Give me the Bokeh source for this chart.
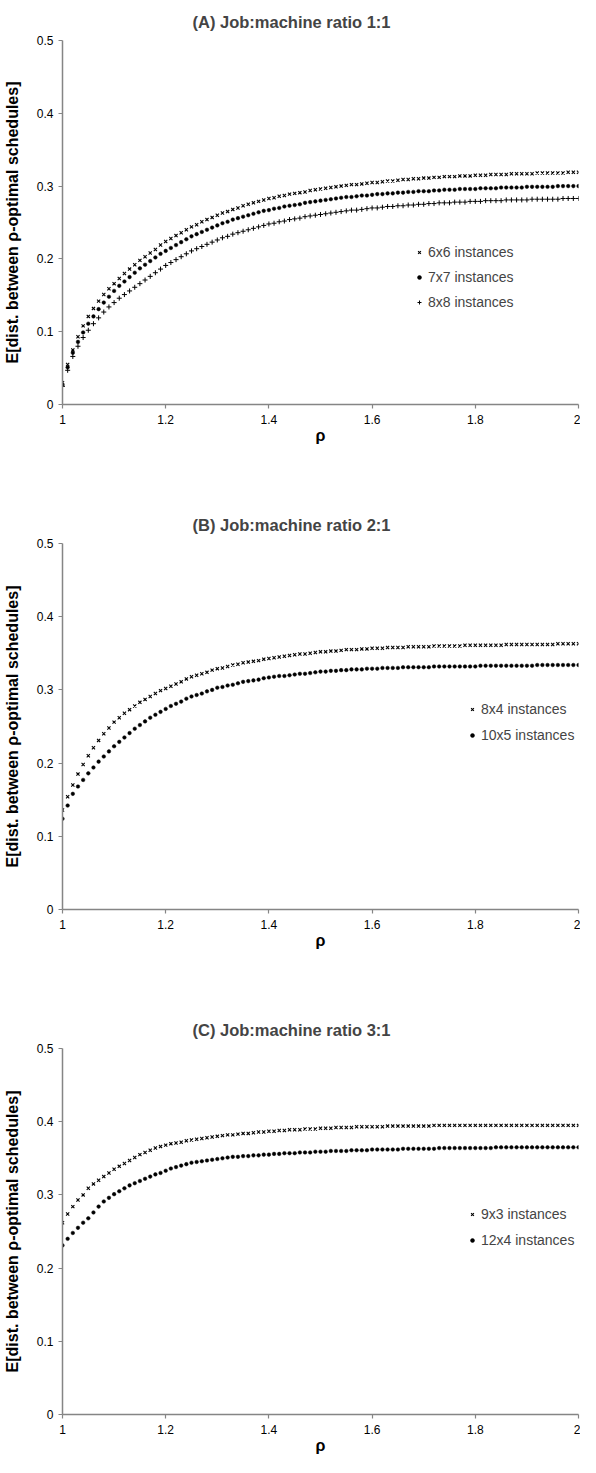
from bokeh.plotting import figure
from bokeh.layouts import column
from bokeh.models import FixedTicker, NumeralTickFormatter, Legend, LegendItem, Range1d
from bokeh.embed import file_html
from bokeh.resources import INLINE

# x values: rho from 1.00 to 2.00 in steps of 0.01
rho = [round(1 + i * 0.01, 2) for i in range(101)]

# ---------------- Panel A (1:1) ----------------
a_6x6 = [0.030, 0.055, 0.075, 0.093, 0.108, 0.121, 0.132, 0.142, 0.151, 0.159,
         0.166, 0.173, 0.180, 0.186, 0.192, 0.198, 0.203, 0.208, 0.213, 0.219,
         0.224, 0.228, 0.232, 0.236, 0.240, 0.244, 0.247, 0.251, 0.254, 0.257,
         0.260, 0.263, 0.265, 0.268, 0.270, 0.273, 0.275, 0.277, 0.279, 0.281,
         0.283, 0.284, 0.286, 0.287, 0.289, 0.290, 0.291, 0.292, 0.294, 0.295,
         0.296, 0.297, 0.298, 0.299, 0.300, 0.301, 0.302, 0.302, 0.303, 0.304,
         0.305, 0.305, 0.306, 0.307, 0.307, 0.308, 0.309, 0.309, 0.310, 0.310,
         0.311, 0.311, 0.312, 0.312, 0.313, 0.313, 0.313, 0.314, 0.314, 0.314,
         0.315, 0.315, 0.315, 0.316, 0.316, 0.316, 0.316, 0.317, 0.317, 0.317,
         0.317, 0.317, 0.318, 0.318, 0.318, 0.318, 0.318, 0.318, 0.319, 0.319,
         0.319]
a_7x7 = [0.027, 0.051, 0.071, 0.086, 0.099, 0.111, 0.121, 0.131, 0.140, 0.148,
         0.156, 0.163, 0.169, 0.175, 0.181, 0.187, 0.192, 0.197, 0.202, 0.207,
         0.211, 0.215, 0.219, 0.223, 0.227, 0.231, 0.234, 0.237, 0.240, 0.243,
         0.246, 0.249, 0.251, 0.254, 0.256, 0.258, 0.260, 0.262, 0.264, 0.266,
         0.267, 0.269, 0.270, 0.272, 0.273, 0.274, 0.275, 0.277, 0.278, 0.279,
         0.280, 0.281, 0.282, 0.283, 0.284, 0.285, 0.285, 0.286, 0.287, 0.287,
         0.288, 0.289, 0.289, 0.290, 0.290, 0.291, 0.291, 0.292, 0.292, 0.293,
         0.293, 0.293, 0.294, 0.294, 0.295, 0.295, 0.295, 0.296, 0.296, 0.296,
         0.296, 0.297, 0.297, 0.297, 0.297, 0.298, 0.298, 0.298, 0.298, 0.298,
         0.299, 0.299, 0.299, 0.299, 0.299, 0.299, 0.300, 0.300, 0.300, 0.300,
         0.300]
a_8x8 = [0.025, 0.047, 0.066, 0.080, 0.092, 0.102, 0.111, 0.119, 0.127, 0.134,
         0.140, 0.146, 0.151, 0.156, 0.161, 0.166, 0.171, 0.176, 0.181, 0.186,
         0.191, 0.195, 0.199, 0.203, 0.207, 0.211, 0.214, 0.217, 0.220, 0.223,
         0.226, 0.229, 0.231, 0.234, 0.236, 0.238, 0.240, 0.242, 0.244, 0.246,
         0.248, 0.249, 0.251, 0.252, 0.254, 0.255, 0.256, 0.258, 0.259, 0.260,
         0.261, 0.262, 0.263, 0.264, 0.265, 0.266, 0.267, 0.267, 0.268, 0.269,
         0.270, 0.270, 0.271, 0.272, 0.272, 0.273, 0.273, 0.274, 0.274, 0.275,
         0.275, 0.276, 0.276, 0.277, 0.277, 0.277, 0.278, 0.278, 0.278, 0.279,
         0.279, 0.279, 0.280, 0.280, 0.280, 0.280, 0.281, 0.281, 0.281, 0.281,
         0.281, 0.282, 0.282, 0.282, 0.282, 0.282, 0.282, 0.283, 0.283, 0.283,
         0.283]

# ---------------- Panel B (2:1) ----------------
b_8x4 = [0.136, 0.154, 0.170, 0.185, 0.198, 0.210, 0.221, 0.231, 0.240, 0.248,
         0.256, 0.262, 0.268, 0.273, 0.278, 0.283, 0.287, 0.291, 0.295, 0.299,
         0.302, 0.305, 0.308, 0.311, 0.315, 0.318, 0.320, 0.322, 0.324, 0.327,
         0.329, 0.330, 0.332, 0.334, 0.335, 0.337, 0.338, 0.339, 0.340, 0.342,
         0.343, 0.344, 0.345, 0.346, 0.347, 0.348, 0.349, 0.349, 0.350, 0.351,
         0.352, 0.352, 0.353, 0.353, 0.354, 0.355, 0.355, 0.355, 0.356, 0.356,
         0.357, 0.357, 0.357, 0.358, 0.358, 0.358, 0.358, 0.359, 0.359, 0.359,
         0.359, 0.359, 0.360, 0.360, 0.360, 0.360, 0.360, 0.360, 0.361, 0.361,
         0.361, 0.361, 0.361, 0.361, 0.361, 0.361, 0.362, 0.362, 0.362, 0.362,
         0.362, 0.362, 0.362, 0.362, 0.362, 0.362, 0.363, 0.363, 0.363, 0.363,
         0.363]
b_10x5 = [0.124, 0.142, 0.158, 0.168, 0.177, 0.186, 0.194, 0.202, 0.209, 0.216,
          0.223, 0.229, 0.235, 0.241, 0.247, 0.252, 0.257, 0.262, 0.266, 0.270,
          0.274, 0.278, 0.281, 0.284, 0.288, 0.291, 0.293, 0.295, 0.298, 0.300,
          0.303, 0.304, 0.306, 0.307, 0.309, 0.311, 0.312, 0.313, 0.314, 0.316,
          0.317, 0.318, 0.319, 0.319, 0.320, 0.321, 0.322, 0.322, 0.323, 0.324,
          0.325, 0.325, 0.326, 0.326, 0.327, 0.327, 0.328, 0.328, 0.328, 0.329,
          0.329, 0.329, 0.330, 0.330, 0.330, 0.330, 0.331, 0.331, 0.331, 0.331,
          0.331, 0.331, 0.332, 0.332, 0.332, 0.332, 0.332, 0.332, 0.332, 0.332,
          0.332, 0.333, 0.333, 0.333, 0.333, 0.333, 0.333, 0.333, 0.333, 0.333,
          0.333, 0.333, 0.334, 0.334, 0.334, 0.334, 0.334, 0.334, 0.334, 0.334,
          0.334]

# ---------------- Panel C (3:1) ----------------
c_9x3 = [0.262, 0.274, 0.284, 0.293, 0.300, 0.309, 0.315, 0.320, 0.325, 0.330,
         0.335, 0.339, 0.343, 0.347, 0.351, 0.355, 0.358, 0.361, 0.364, 0.366,
         0.368, 0.370, 0.371, 0.372, 0.374, 0.375, 0.376, 0.377, 0.378, 0.379,
         0.380, 0.381, 0.382, 0.382, 0.383, 0.384, 0.384, 0.385, 0.386, 0.386,
         0.387, 0.387, 0.388, 0.388, 0.389, 0.389, 0.389, 0.390, 0.390, 0.390,
         0.391, 0.391, 0.391, 0.392, 0.392, 0.392, 0.392, 0.393, 0.393, 0.393,
         0.393, 0.393, 0.393, 0.394, 0.394, 0.394, 0.394, 0.394, 0.394, 0.394,
         0.394, 0.394, 0.395, 0.395, 0.395, 0.395, 0.395, 0.395, 0.395, 0.395,
         0.395, 0.395, 0.395, 0.395, 0.395, 0.395, 0.395, 0.395, 0.395, 0.395,
         0.395, 0.395, 0.395, 0.395, 0.395, 0.395, 0.395, 0.395, 0.395, 0.395,
         0.395]
c_12x4 = [0.231, 0.240, 0.248, 0.255, 0.262, 0.268, 0.276, 0.284, 0.291, 0.296,
          0.301, 0.305, 0.309, 0.313, 0.316, 0.319, 0.322, 0.325, 0.328, 0.330,
          0.333, 0.336, 0.338, 0.340, 0.342, 0.344, 0.345, 0.346, 0.347, 0.348,
          0.349, 0.350, 0.351, 0.352, 0.352, 0.353, 0.353, 0.354, 0.354, 0.355,
          0.355, 0.356, 0.356, 0.357, 0.357, 0.357, 0.358, 0.358, 0.358, 0.359,
          0.359, 0.359, 0.360, 0.360, 0.360, 0.360, 0.361, 0.361, 0.361, 0.361,
          0.362, 0.362, 0.362, 0.362, 0.362, 0.362, 0.363, 0.363, 0.363, 0.363,
          0.363, 0.363, 0.363, 0.364, 0.364, 0.364, 0.364, 0.364, 0.364, 0.364,
          0.364, 0.364, 0.364, 0.364, 0.365, 0.365, 0.365, 0.365, 0.365, 0.365,
          0.365, 0.365, 0.365, 0.365, 0.365, 0.365, 0.365, 0.365, 0.365, 0.365,
          0.365]

x_ticks = [1.0, 1.2, 1.4, 1.6, 1.8, 2.0]
y_ticks = [0.0, 0.1, 0.2, 0.3, 0.4, 0.5]
titles = ["(A) Job:machine ratio 1:1", "(B) Job:machine ratio 2:1", "(C) Job:machine ratio 3:1"]
x_label = "\u03c1"
y_label = "E[dist. between \u03c1-optimal schedules]"

FONT = "Liberation Sans"
AXIS_COLOR = "#858585"

MARKER_STYLE = {
    "x": dict(marker="x", size=4.5, line_color="black", line_width=1.1),
    "circle": dict(marker="circle", size=3.6, line_color="black", fill_color="black", line_width=0.5),
    "cross": dict(marker="cross", size=5, line_color="black", line_width=1.0),
}


def make_panel(title, series, height, top, bottom, leg_x, leg_y, leg_spacing):
    p = figure(width=580, height=height, output_backend="svg", toolbar_location=None,
               x_range=Range1d(1.0, 2.0), y_range=Range1d(0.0, 0.5),
               min_border_left=58, min_border_right=2,
               min_border_top=top, min_border_bottom=bottom)
    p.outline_line_color = None
    p.grid.visible = False
    p.background_fill_color = "white"
    p.border_fill_color = "white"

    p.title.text = title
    p.title.text_font = FONT
    p.title.text_font_size = "16.5px"
    p.title.text_font_style = "bold"
    p.title.align = "left"
    p.title.offset = 130
    p.title.standoff = 20

    for ax in (p.xaxis[0], p.yaxis[0]):
        ax.axis_line_color = AXIS_COLOR
        ax.axis_line_width = 1.5
        ax.major_tick_line_color = AXIS_COLOR
        ax.major_tick_line_width = 1.2
        ax.major_tick_out = 4
        ax.major_tick_in = 0
        ax.minor_tick_line_color = None
        ax.major_label_text_font = FONT
        ax.major_label_text_font_size = "12px"
        ax.major_label_text_color = "black"
        ax.axis_label_text_font = FONT
        ax.axis_label_text_font_size = "16px"
        ax.axis_label_text_font_style = "bold"
        ax.axis_label_text_color = "black"
        ax.formatter = NumeralTickFormatter(format="0.[0]")

    p.xaxis[0].ticker = FixedTicker(ticks=x_ticks)
    p.yaxis[0].ticker = FixedTicker(ticks=y_ticks)
    p.xaxis[0].axis_label = x_label
    p.yaxis[0].axis_label = y_label
    p.xaxis[0].major_label_standoff = 6
    p.xaxis[0].axis_label_standoff = 0
    p.yaxis[0].major_label_standoff = 5
    p.yaxis[0].axis_label_standoff = 13

    items = []
    for name, vals, mk in series:
        r = p.scatter(rho, vals, **MARKER_STYLE[mk])
        items.append(LegendItem(label=name, renderers=[r]))

    leg = Legend(items=items, location=(leg_x, leg_y),
                 label_text_font=FONT, label_text_font_size="14px",
                 glyph_width=10, glyph_height=20, label_height=20,
                 label_standoff=4, spacing=leg_spacing, padding=0, margin=0,
                 border_line_color=None, background_fill_alpha=0)
    p.add_layout(leg, "center")
    return p


pa = make_panel(titles[0],
                [("6x6 instances", a_6x6, "x"),
                 ("7x7 instances", a_7x7, "circle"),
                 ("8x8 instances", a_8x8, "cross")],
                height=503, top=38, bottom=99, leg_x=352, leg_y=92, leg_spacing=5)
pb = make_panel(titles[1],
                [("8x4 instances", b_8x4, "x"),
                 ("10x5 instances", b_10x5, "circle")],
                height=505, top=40, bottom=99, leg_x=405, leg_y=164, leg_spacing=6)
pc = make_panel(titles[2],
                [("9x3 instances", c_9x3, "x"),
                 ("12x4 instances", c_12x4, "circle")],
                height=450, top=40, bottom=44, leg_x=405, leg_y=164, leg_spacing=6)

layout = column(pa, pb, pc, spacing=0)

open("out.html", "w").write(file_html(layout, INLINE))
